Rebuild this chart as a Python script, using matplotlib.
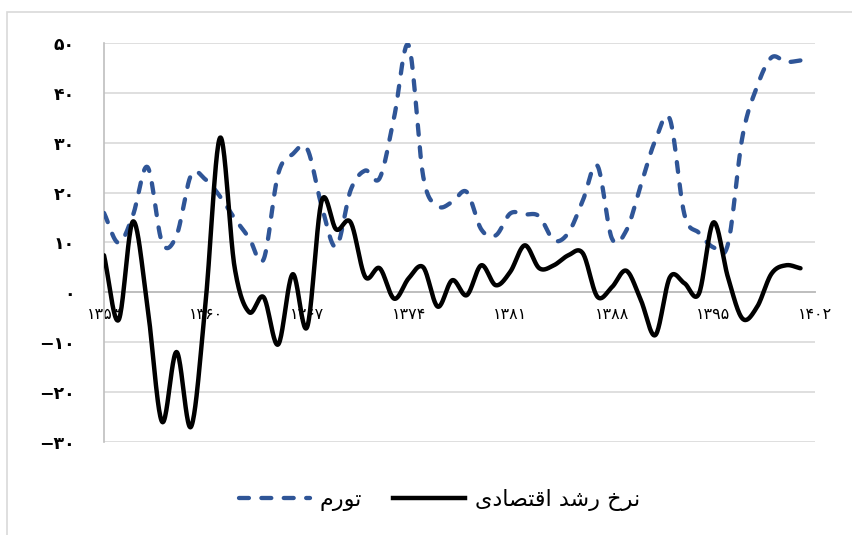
import matplotlib.pyplot as plt
import numpy as np
from matplotlib.patches import Rectangle
from matplotlib.lines import Line2D

# data
years = list(range(1353, 1402))
inflation = [15.9, 9.9, 15.5, 25.1, 10.0, 11.4, 23.5, 22.6, 19.2, 14.8,
             10.9, 6.6, 23.7, 27.7, 28.8, 17.3, 9.1, 20.5, 24.4, 22.9,
             35.2, 49.5, 23.2, 17.3, 18.1, 20.1, 12.6, 11.4, 15.8, 15.6,
             15.2, 10.4, 11.9, 18.4, 25.4, 10.8, 12.4, 21.5, 30.5, 34.7,
             15.6, 11.9, 9.0, 9.6, 31.2, 41.2, 47.1, 46.2, 46.5]
growth = [7.4, -5.6, 14.2, -3.0, -26.0, -12.0, -27.0, -2.0, 31.0, 5.0,
          -4.0, -1.0, -10.5, 3.6, -7.0, 18.3, 12.6, 14.0, 3.1, 4.8,
          -1.3, 2.8, 5.0, -2.9, 2.4, -0.6, 5.4, 1.4, 4.1, 9.4,
          4.8, 5.4, 7.4, 7.8, -0.9, 1.0, 4.3, -1.6, -8.6, 3.0,
          1.8, -0.3, 14.0, 3.0, -5.3, -3.0, 3.7, 5.4, 4.8]

x_ticks = [1353, 1360, 1367, 1374, 1381, 1388, 1395, 1402]
y_ticks = [-30, -20, -10, 0, 10, 20, 30, 40, 50]

# legend labels, shaped Arabic presentation forms in visual order
label_infl = "\uFEE1\uFEAD\uFEEE\uFE97"  # تورم
label_growth = ("\uFBFC\uFEA9\uFE8E\uFEBC\uFE98\uFED7\uFE8D "
                "\uFEAA\uFEB7\uFEAD \uFEA5\uFEAE\uFEE7")  # نرخ رشد اقتصادی

fa = str.maketrans("0123456789-", "۰۱۲۳۴۵۶۷۸۹−")


def smooth(x, y, n=24):
    # catmull-rom, like excel's "smoothed line"
    x = np.asarray(x, float)
    y = np.asarray(y, float)
    m = np.zeros_like(y)
    m[1:-1] = (y[2:] - y[:-2]) / 2
    m[0] = y[1] - y[0]
    m[-1] = y[-1] - y[-2]
    xs, ys = [], []
    t = np.linspace(0, 1, n, endpoint=False)
    for i in range(len(y) - 1):
        h00 = 2 * t**3 - 3 * t**2 + 1
        h10 = t**3 - 2 * t**2 + t
        h01 = -2 * t**3 + 3 * t**2
        h11 = t**3 - t**2
        ys.append(h00 * y[i] + h10 * m[i] + h01 * y[i + 1] + h11 * m[i + 1])
        xs.append(x[i] + t * (x[i + 1] - x[i]))
    xs.append([x[-1]])
    ys.append([y[-1]])
    return np.concatenate(xs), np.concatenate(ys)


plt.rcParams['font.family'] = 'DejaVu Sans'

fig = plt.figure(figsize=(8.53, 5.35), dpi=100)
ax = fig.add_axes([104 / 853, 1 - 441.7 / 535, (815 - 104) / 853, (441.7 - 43) / 535])

blue = '#2F5597'
sx, sy = smooth(years, inflation)
ax.plot(sx, sy, color=blue, lw=3.1, ls=(0, (2.3, 2.9)), dash_capstyle='round', zorder=3)
gx, gy = smooth(years, growth)
ax.plot(gx, gy, color='black', lw=3.2, solid_capstyle='round', zorder=4)

ax.set_xlim(1353, 1402)
ax.set_ylim(-30, 50)
ax.set_yticks(y_ticks)
ax.set_yticklabels([str(v).translate(fa) for v in y_ticks])
ax.set_xticks(x_ticks)
ax.set_xticklabels([str(v).translate(fa) for v in x_ticks])
ax.tick_params(axis='y', length=0, pad=21, labelsize=12.5)
ax.tick_params(axis='x', length=0, pad=11, labelsize=11.5)
for lab in ax.get_xticklabels() + ax.get_yticklabels():
    lab.set_fontweight('bold')

ax.grid(axis='y', color='#d9d9d9', lw=1.2)
ax.set_axisbelow(True)
for s in ['top', 'right']:
    ax.spines[s].set_visible(False)
ax.spines['left'].set_color('#bfbfbf')
ax.spines['left'].set_linewidth(1.2)
ax.spines['bottom'].set_position(('data', 0))
ax.spines['bottom'].set_color('#bfbfbf')
ax.spines['bottom'].set_linewidth(1.4)
ax.spines['bottom'].set_zorder(2)

# chart area border (cropped at right and bottom)
fig.add_artist(Rectangle((7 / 853, -0.2), 1.5, 1.2 - 12 / 535, transform=fig.transFigure,
                         fill=False, edgecolor='#d9d9d9', lw=1.2))

handles = [Line2D([], [], color=blue, lw=3.1, ls=(0, (2.3, 2.9)), dash_capstyle='round'),
           Line2D([], [], color='black', lw=3.2)]
fig.legend(handles, [label_infl, label_growth], loc='center', bbox_to_anchor=(0.515, 0.065),
           ncol=2, frameon=False, fontsize=16, handlelength=3.2, handletextpad=0.45,
           columnspacing=1.4)

fig.savefig('out.png', dpi=100)
